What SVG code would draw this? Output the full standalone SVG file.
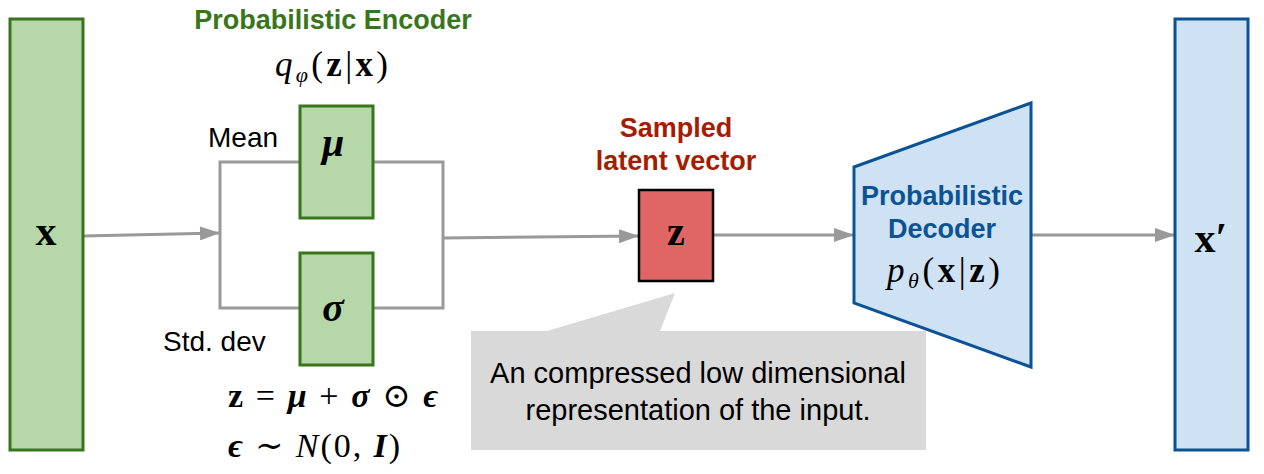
<svg xmlns="http://www.w3.org/2000/svg" width="1264" height="474" viewBox="0 0 1264 474">
<style>
.enc{fill:#b6d7a8;stroke:#38761d;stroke-width:3}
.dec{fill:#cfe2f3;stroke:#0b5394;stroke-width:3}
.ln{fill:none;stroke:#999999;stroke-width:3}
.sans{font-family:"Liberation Sans",Arial,sans-serif}
.serif{font-family:"Liberation Serif","DejaVu Serif",serif}
.b{font-weight:bold}
.i{font-style:italic}
</style>
<defs>
<marker id="ah" markerUnits="userSpaceOnUse" markerWidth="20" markerHeight="14" refX="20" refY="7" orient="auto">
<path d="M0,0 L20,7 L0,14 Z" fill="#999999"/>
</marker>
</defs>
<rect width="1264" height="474" fill="#ffffff"/>
<g id="connectors">
<path class="ln" d="M83,236 L220,233" marker-end="url(#ah)"/>
<path class="ln" d="M300,162 H220 V308 H300"/>
<path class="ln" d="M373,162 H443 V308 H373"/>
<path class="ln" d="M443,238 L639,236" marker-end="url(#ah)"/>
<path class="ln" d="M713,235 L854,235" marker-end="url(#ah)"/>
<path class="ln" d="M1031,235 L1175,235" marker-end="url(#ah)"/>
</g>
<g id="input-x">
<rect class="enc" x="10" y="19" width="73" height="431"/>
<text class="serif b" x="46" y="245" font-size="42" text-anchor="middle">x</text>
</g>
<g id="encoder-title">
<text class="sans b" x="333" y="29" font-size="27" fill="#38761d" text-anchor="middle">Probabilistic Encoder</text>
<text class="serif" x="275" y="76" font-size="35" textLength="113" lengthAdjust="spacing"><tspan class="i">q</tspan><tspan class="i" font-size="22" dy="6">φ</tspan><tspan dy="-6">(</tspan><tspan class="b">z</tspan>|<tspan class="b">x</tspan>)</text>
</g>
<g id="mu">
<rect class="enc" x="300" y="106" width="73" height="112"/>
<text class="serif b i" x="333" y="156" font-size="40" text-anchor="middle">μ</text>
<text class="sans" x="208" y="147" font-size="28">Mean</text>
</g>
<g id="sigma">
<rect class="enc" x="300" y="253" width="73" height="112"/>
<text class="serif b i" x="333" y="321" font-size="40" text-anchor="middle">σ</text>
<text class="sans" x="163" y="351" font-size="28">Std. dev</text>
</g>
<g id="equations">
<text class="serif" x="228" y="407" font-size="34" textLength="210" lengthAdjust="spacing"><tspan class="b">z</tspan> = <tspan class="b i">μ</tspan> + <tspan class="b i">σ</tspan> ⊙ <tspan class="b i">ϵ</tspan></text>
<text class="serif" x="228" y="457" font-size="34" textLength="172" lengthAdjust="spacing"><tspan class="b i">ϵ</tspan> ∼ <tspan class="i">N</tspan>(0, <tspan class="b i">I</tspan>)</text>
</g>
<g id="latent-z">
<text class="sans b" x="676" y="137" font-size="27" fill="#a61c00" text-anchor="middle">Sampled</text>
<text class="sans b" x="676" y="170" font-size="27" fill="#a61c00" text-anchor="middle">latent vector</text>
<rect x="639" y="190" width="74" height="91" fill="#e06666" stroke="#000000" stroke-width="2.5"/>
<text class="serif b" x="676" y="245" font-size="40" text-anchor="middle">z</text>
</g>
<g id="callout">
<path d="M471,331 H547 L675,293 L660,331 H926 V450 H471 Z" fill="#d9d9d9"/>
<text class="sans" x="698" y="383" font-size="29" text-anchor="middle">An compressed low dimensional</text>
<text class="sans" x="698" y="420" font-size="29" text-anchor="middle">representation of the input.</text>
</g>
<g id="decoder">
<path class="dec" d="M854,167 L1031,103 L1031,367 L854,303 Z"/>
<text class="sans b" x="942" y="205" font-size="27" fill="#0b5394" text-anchor="middle">Probabilistic</text>
<text class="sans b" x="942" y="238" font-size="27" fill="#0b5394" text-anchor="middle">Decoder</text>
<text class="serif" x="887" y="282" font-size="35" textLength="113" lengthAdjust="spacing"><tspan class="i">p</tspan><tspan class="i" font-size="22" dy="6">θ</tspan><tspan dy="-6">(</tspan><tspan class="b">x</tspan>|<tspan class="b">z</tspan>)</text>
</g>
<g id="output-x">
<rect class="dec" x="1175" y="19" width="73" height="431"/>
<text class="serif b" x="1211" y="252" font-size="42" text-anchor="middle">x′</text>
</g>
</svg>
